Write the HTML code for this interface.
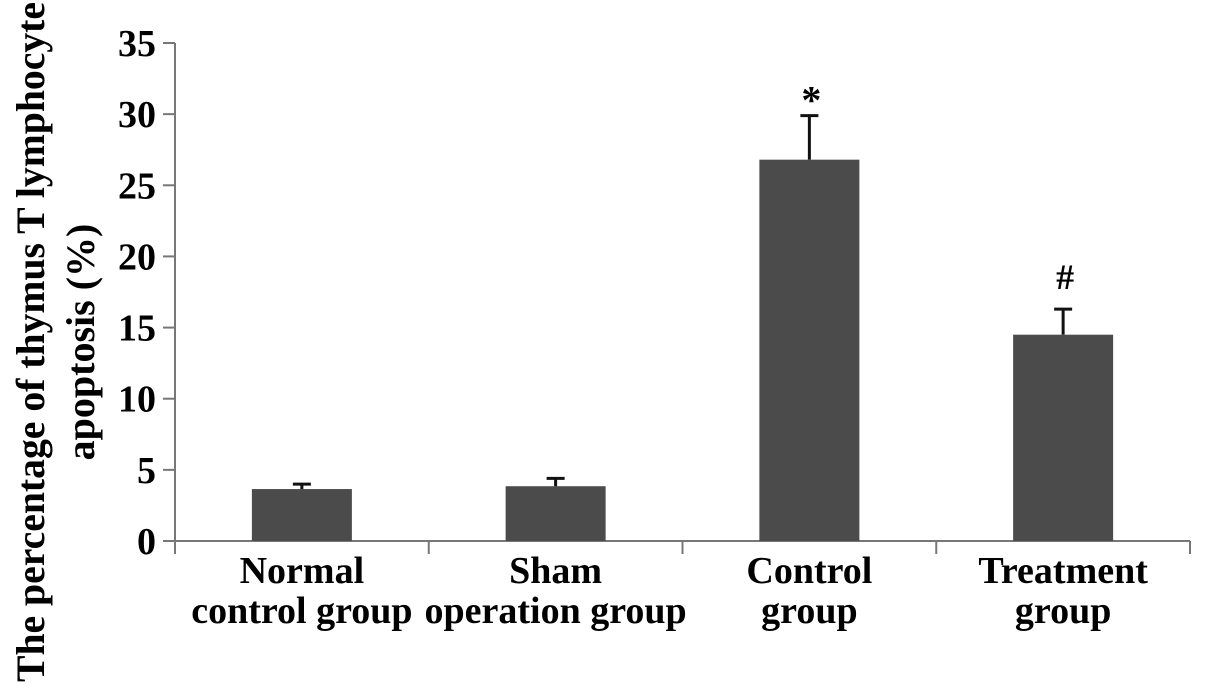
<!DOCTYPE html>
<html><head><meta charset="utf-8"><style>
html,body{margin:0;padding:0;background:#fff;}
svg{display:block;font-family:"Liberation Serif",serif;font-weight:bold;}
</style></head><body>
<svg id="chart" width="1205" height="691" viewBox="0 0 1205 691">
<g id="ytitle" transform="translate(0,342) rotate(-90)">
<text x="0" y="44" text-anchor="middle" font-size="40" textLength="680" lengthAdjust="spacingAndGlyphs">The percentage of thymus T lymphocyte</text>
<text x="0" y="94" text-anchor="middle" font-size="40">apoptosis (%)</text>
</g>
</svg>
<script>
const categories=[["Normal","control group"],["Sham","operation group"],["Control","group"],["Treatment","group"]];
const values=[3.65,3.85,26.8,14.5];
const errors=[0.35,0.55,3.1,1.8];
const marks=["","","*","#"];
const yTicks=[0,5,10,15,20,25,30,35];
const svg=document.getElementById('chart');
const NS='http://www.w3.org/2000/svg';
const x0=175,x1=1190,y0=541,yTop=43,yMax=35;
const y=v=>y0-(v/yMax)*(y0-yTop);
const bw=(x1-x0)/categories.length;
const cx=i=>x0+bw*(i+0.5);
function mk(t,a){const e=document.createElementNS(NS,t);for(const k in a)e.setAttribute(k,a[k]);svg.appendChild(e);return e;}
let e;
e=mk('line',{x1:x0,y1:yTop,x2:x0,y2:y0,stroke:'#777','stroke-width':2});


e=mk('line',{x1:163,y1:y0,x2:x1,y2:y0,stroke:'#777','stroke-width':2});


yTicks.forEach(t=>{
 const l=mk('line',{x1:163,y1:y(t),x2:x0,y2:y(t),stroke:'#777','stroke-width':2});
 
 
 const tx=mk('text',{x:156,y:y(t)+13,'text-anchor':'end','font-size':38});
 tx.textContent=t;
 
 
});
for(let i=0;i<=categories.length;i++){
 const l=mk('line',{x1:x0+bw*i,y1:y0,x2:x0+bw*i,y2:y0+13,stroke:'#777','stroke-width':2});
 
 
}
categories.forEach((c,i)=>{
 const bx=cx(i)-50;
 const r=mk('rect',{x:bx,y:y(values[i]),width:100,height:y0-y(values[i]),fill:'#4b4b4b'});
 
 
 const et=y(values[i]+errors[i]);
 const g=mk('path',{d:`M${cx(i)},${y(values[i])}V${et}M${cx(i)-9},${et}H${cx(i)+9}`,stroke:'#111','stroke-width':3,fill:'none'});
 
 
 if(marks[i]){
  const m=mk('text',{x:cx(i)+2,y:et-(marks[i]=='*'?2:20),'text-anchor':'middle','font-size':marks[i]=='*'?40:36});
  m.textContent=marks[i];
  
  
 }
 c.forEach((s,j)=>{
  const t=mk('text',{x:cx(i),y:583+j*40,'text-anchor':'middle','font-size':38});
  t.textContent=s;
  
  
 });
});
</script>
</body></html>
